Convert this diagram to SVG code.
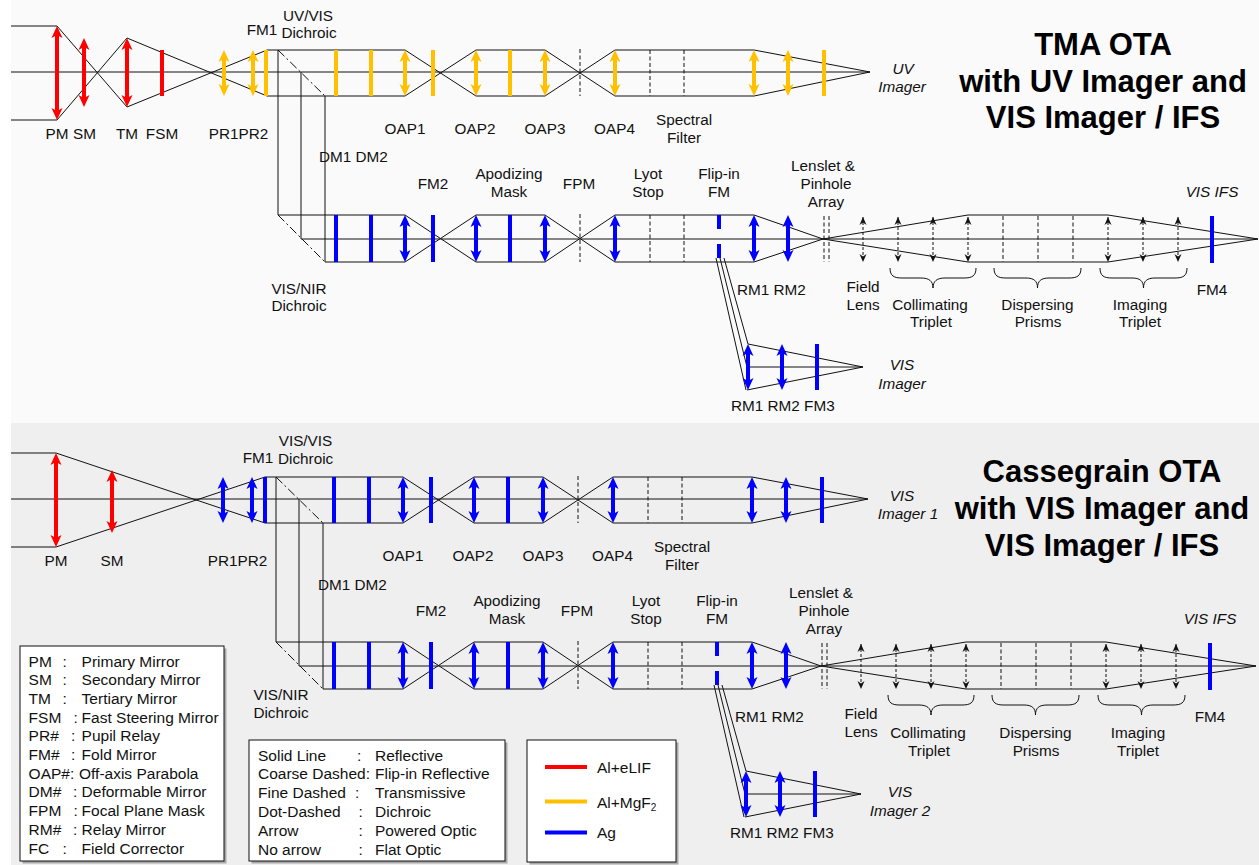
<svg xmlns="http://www.w3.org/2000/svg" width="1259" height="865" viewBox="0 0 1259 865">
<defs>
<style>
.ln{stroke:#111;stroke-width:1;fill:none}
.fd{stroke:#111;stroke-width:1;stroke-dasharray:4 2.5;fill:none}
.dd{stroke:#111;stroke-width:1;stroke-dasharray:9 3 2 3;fill:none}
.fr{stroke:#ff0000;stroke-width:4}
.fy{stroke:#ffc000;stroke-width:4}
.fb{stroke:#0000ff;stroke-width:4}
.ar{marker-start:url(#mR);marker-end:url(#mR)}
.ay{marker-start:url(#mY);marker-end:url(#mY)}
.ab{marker-start:url(#mB);marker-end:url(#mB)}
.cd{stroke:#0000ff;stroke-width:4;stroke-dasharray:14 15}
.sa{stroke:#111;stroke-width:1;stroke-dasharray:3 2;marker-start:url(#mK);marker-end:url(#mK)}
.br{stroke:#111;stroke-width:1;fill:none}
text{font-family:"Liberation Sans",Arial,sans-serif;font-size:15.3px;fill:#111}
.c{text-anchor:middle}
.i{font-style:italic}
.t{font-weight:bold;font-size:31px;text-anchor:middle;fill:#000}
.lg{font-size:15.5px}
.box{fill:#fff;stroke:#111;stroke-width:1}
.sh{fill:#a8a8a8}
</style>
<marker id="mR" markerUnits="userSpaceOnUse" markerWidth="16" markerHeight="14" viewBox="-6 -7 16 14" refX="0" refY="0" orient="auto-start-reverse"><path d="M8,0 L-4,-5.5 L-1,0 L-4,5.5Z" fill="#ff0000"/></marker>
<marker id="mY" markerUnits="userSpaceOnUse" markerWidth="16" markerHeight="14" viewBox="-6 -7 16 14" refX="0" refY="0" orient="auto-start-reverse"><path d="M8,0 L-4,-5.5 L-1,0 L-4,5.5Z" fill="#ffc000"/></marker>
<marker id="mB" markerUnits="userSpaceOnUse" markerWidth="16" markerHeight="14" viewBox="-6 -7 16 14" refX="0" refY="0" orient="auto-start-reverse"><path d="M8,0 L-4,-5.5 L-1,0 L-4,5.5Z" fill="#0000ff"/></marker>
<marker id="mK" markerUnits="userSpaceOnUse" markerWidth="12" markerHeight="10" viewBox="-10 -5 12 10" refX="0" refY="0" orient="auto-start-reverse"><path d="M0,0 L-8,-3.5 L-5.5,0 L-8,3.5Z" fill="#111"/></marker>
</defs>

<rect x="0" y="0" width="1259" height="865" fill="#ffffff"/>
<rect x="11" y="0" width="1248" height="423" fill="#fafafa"/>
<rect x="11" y="423" width="1248" height="442" fill="#efefef"/>

<!-- ===================== TOP PANEL: TMA OTA ===================== -->
<g id="tma">
<g id="tma-rays">
<path class="ln" d="M11,72H870"/>
<path class="ln" d="M11,26H57 L127,107 L267,50 M11,120H57 L127,38 L267,96"/>
<path class="ln" d="M267,50H405 L476,96 H545 L615,50 H754 L870,72 M267,96H405 L476,50 H545 L615,96 H754 L870,72"/>
<path class="ln" d="M278,50V215 M301,72V239 M325,96V262"/>
<path class="ln" d="M278,215H405 L476,262 H545 L615,215 H754 L823,239 L968,262 H1108 L1258,239 M325,262H405 L476,215 H545 L615,262 H754 L823,239 L968,215 H1108 L1258,239 M301,239H1258"/>
<path class="ln" d="M716,258L746,390 M720,258L747,367 M724,258L748,344 M748,344L863,367 M747,390L863,367 M748,367H863"/>
</g>
<g id="tma-pm"><line class="fr ar" x1="57" y1="34" x2="57" y2="112"/></g>
<g id="tma-sm"><line class="fr ar" x1="84" y1="46" x2="84" y2="99"/></g>
<g id="tma-tm"><line class="fr ar" x1="127" y1="46" x2="127" y2="99"/></g>
<g id="tma-fsm"><line class="fr" x1="162" y1="50" x2="162" y2="96"/></g>
<g id="tma-uv">
<line class="fy ay" x1="224" y1="58" x2="224" y2="88"/>
<line class="fy ay" x1="253" y1="58" x2="253" y2="88"/>
<line class="fy" x1="266" y1="50" x2="266" y2="96"/>
<line class="dd" x1="278" y1="50" x2="325" y2="96"/>
<line class="fy" x1="336" y1="50" x2="336" y2="96"/>
<line class="fy" x1="371" y1="50" x2="371" y2="96"/>
<line class="fy ay" x1="405" y1="58" x2="405" y2="88"/>
<line class="fy" x1="433" y1="50" x2="433" y2="96"/>
<line class="fy ay" x1="476" y1="58" x2="476" y2="88"/>
<line class="fy" x1="510" y1="50" x2="510" y2="96"/>
<line class="fy ay" x1="545" y1="58" x2="545" y2="88"/>
<line class="fd" x1="580" y1="49" x2="580" y2="96"/>
<line class="fy ay" x1="615" y1="58" x2="615" y2="88"/>
<line class="fd" x1="650" y1="50" x2="650" y2="96"/>
<line class="fd" x1="684" y1="50" x2="684" y2="96"/>
<line class="fy ay" x1="754" y1="58" x2="754" y2="88"/>
<line class="fy ay" x1="788" y1="58" x2="788" y2="88"/>
<line class="fy" x1="824" y1="50" x2="824" y2="96"/>
</g>
<g id="tma-vis">
<line class="dd" x1="278" y1="215" x2="325" y2="262"/>
<line class="fb" x1="336" y1="215" x2="336" y2="262"/>
<line class="fb" x1="371" y1="215" x2="371" y2="262"/>
<line class="fb ab" x1="405" y1="223" x2="405" y2="254"/>
<line class="fb" x1="433" y1="215" x2="433" y2="262"/>
<line class="fb ab" x1="476" y1="223" x2="476" y2="254"/>
<line class="fb" x1="510" y1="215" x2="510" y2="262"/>
<line class="fb ab" x1="545" y1="223" x2="545" y2="254"/>
<line class="fd" x1="580" y1="214" x2="580" y2="262"/>
<line class="fb ab" x1="615" y1="223" x2="615" y2="254"/>
<line class="fd" x1="650" y1="215" x2="650" y2="262"/>
<line class="fd" x1="684" y1="215" x2="684" y2="262"/>
<line class="cd" x1="719" y1="215" x2="719" y2="258"/>
<line class="fb ab" x1="754" y1="223" x2="754" y2="254"/>
<line class="fb ab" x1="788" y1="223" x2="788" y2="254"/>
<line class="fd" x1="824" y1="216" x2="824" y2="262"/>
<line class="fd" x1="829" y1="216" x2="829" y2="262"/>
<line class="sa" x1="863" y1="217" x2="863" y2="262"/>
<line class="sa" x1="898" y1="217" x2="898" y2="262"/>
<line class="sa" x1="933" y1="217" x2="933" y2="262"/>
<line class="sa" x1="968" y1="217" x2="968" y2="262"/>
<line class="fd" x1="1003" y1="216" x2="1003" y2="262"/>
<line class="fd" x1="1038" y1="216" x2="1038" y2="262"/>
<line class="fd" x1="1073" y1="216" x2="1073" y2="262"/>
<line class="sa" x1="1108" y1="217" x2="1108" y2="262"/>
<line class="sa" x1="1143" y1="217" x2="1143" y2="262"/>
<line class="sa" x1="1178" y1="217" x2="1178" y2="262"/>
<line class="fb" x1="1212" y1="216" x2="1212" y2="263"/>
<path class="br" d="M890,268 C890,276 894,278 902,278 L921,278 C929,278 933,281 933,288 C933,281 937,278 945,278 L964,278 C972,278 976,276 976,268"/>
<path class="br" d="M994,268 C994,276 998,278 1006,278 L1026,278 C1034,278 1037.5,281 1037.5,288 C1037.5,281 1041,278 1049,278 L1069,278 C1077,278 1081,276 1081,268"/>
<path class="br" d="M1100,268 C1100,276 1104,278 1112,278 L1132,278 C1140,278 1143.5,281 1143.5,288 C1143.5,281 1147,278 1155,278 L1175,278 C1183,278 1187,276 1187,268"/>
</g>
<g id="tma-visimager">
<line class="fb ab" x1="748" y1="352" x2="748" y2="382"/>
<line class="fb ab" x1="782" y1="352" x2="782" y2="382"/>
<line class="fb" x1="817" y1="344" x2="817" y2="390"/>
</g>
<g id="tma-labels">
<text class="c" x="57" y="138.5">PM</text>
<text class="c" x="84.5" y="138.5">SM</text>
<text class="c" x="127" y="138.5">TM</text>
<text class="c" x="162" y="138.5">FSM</text>
<text class="c" x="238.5" y="138.5">PR1PR2</text>
<text class="c" x="262" y="35">FM1</text>
<text class="c" x="308" y="20.5">UV/VIS</text>
<text class="c" x="309" y="38">Dichroic</text>
<text x="319" y="162">DM1 DM2</text>
<text class="c" x="405" y="133.5">OAP1</text>
<text class="c" x="475" y="133.5">OAP2</text>
<text class="c" x="545" y="133.5">OAP3</text>
<text class="c" x="614.5" y="133.5">OAP4</text>
<text class="c" x="684" y="124.5">Spectral</text>
<text class="c" x="684" y="142.5">Filter</text>
<text class="c i" x="903" y="74">UV</text>
<text class="c i" x="902" y="91.5">Imager</text>
<text class="c" x="433" y="188.5">FM2</text>
<text class="c" x="509" y="178.5">Apodizing</text>
<text class="c" x="509" y="196.5">Mask</text>
<text class="c" x="579" y="188.5">FPM</text>
<text class="c" x="648" y="178.5">Lyot</text>
<text class="c" x="648" y="196.5">Stop</text>
<text class="c" x="719" y="178.5">Flip-in</text>
<text class="c" x="719" y="196.5">FM</text>
<text class="c" x="823" y="170.5">Lenslet &amp;</text>
<text class="c" x="826" y="188.5">Pinhole</text>
<text class="c" x="826" y="206.5">Array</text>
<text class="c i" x="1212" y="196.5">VIS IFS</text>
<text class="c" x="299" y="293.5">VIS/NIR</text>
<text class="c" x="299" y="311">Dichroic</text>
<text x="737" y="295">RM1 RM2</text>
<text class="c" x="863" y="292">Field</text>
<text class="c" x="863" y="310">Lens</text>
<text class="c" x="930" y="309.5">Collimating</text>
<text class="c" x="931" y="327">Triplet</text>
<text class="c" x="1037.5" y="309.5">Dispersing</text>
<text class="c" x="1038" y="327">Prisms</text>
<text class="c" x="1140" y="309.5">Imaging</text>
<text class="c" x="1140" y="327">Triplet</text>
<text class="c" x="1212" y="295">FM4</text>
<text class="c i" x="902" y="370">VIS</text>
<text class="c i" x="902" y="388.5">Imager</text>
<text x="731" y="410.5">RM1 RM2 FM3</text>
</g>
<g id="tma-title">
<text class="t" x="1103" y="55">TMA OTA</text>
<text class="t" x="1103" y="92">with UV Imager and</text>
<text class="t" x="1103" y="128">VIS Imager / IFS</text>
</g>
</g>

<!-- ===================== BOTTOM PANEL: Cassegrain OTA ===================== -->
<g id="cass" transform="translate(-2,427)">
<g id="cass-rays">
<path class="ln" d="M13,72H870"/>
<path class="ln" d="M13,26H58 L267,96 M13,120H58 L267,50"/>
<path class="ln" d="M267,50H405 L476,96 H545 L615,50 H754 L870,72 M267,96H405 L476,50 H545 L615,96 H754 L870,72"/>
<path class="ln" d="M278,50V215 M301,72V239 M325,96V262"/>
<path class="ln" d="M278,215H405 L476,262 H545 L615,215 H754 L823,239 L968,262 H1108 L1258,239 M325,262H405 L476,215 H545 L615,262 H754 L823,239 L968,215 H1108 L1258,239 M301,239H1258"/>
<path class="ln" d="M716,258L746,390 M720,258L747,367 M724,258L748,344 M748,344L863,367 M747,390L863,367 M748,367H863"/>
</g>
<g id="cass-pm"><line class="fr ar" x1="58" y1="34" x2="58" y2="112"/></g>
<g id="cass-sm"><line class="fr ar" x1="114" y1="51" x2="114" y2="98"/></g>
<g id="cass-vis1">
<line class="fb ab" x1="225" y1="58" x2="225" y2="88"/>
<line class="fb ab" x1="254" y1="58" x2="254" y2="88"/>
<line class="fb" x1="267" y1="50" x2="267" y2="96"/>
<line class="dd" x1="278" y1="50" x2="325" y2="96"/>
<line class="fb" x1="336" y1="50" x2="336" y2="96"/>
<line class="fb" x1="371" y1="50" x2="371" y2="96"/>
<line class="fb ab" x1="405" y1="58" x2="405" y2="88"/>
<line class="fb" x1="433" y1="50" x2="433" y2="96"/>
<line class="fb ab" x1="476" y1="58" x2="476" y2="88"/>
<line class="fb" x1="510" y1="50" x2="510" y2="96"/>
<line class="fb ab" x1="545" y1="58" x2="545" y2="88"/>
<line class="fd" x1="580" y1="49" x2="580" y2="96"/>
<line class="fb ab" x1="615" y1="58" x2="615" y2="88"/>
<line class="fd" x1="650" y1="50" x2="650" y2="96"/>
<line class="fd" x1="684" y1="50" x2="684" y2="96"/>
<line class="fb ab" x1="754" y1="58" x2="754" y2="88"/>
<line class="fb ab" x1="788" y1="58" x2="788" y2="88"/>
<line class="fb" x1="824" y1="50" x2="824" y2="96"/>
</g>
<g id="cass-vis">
<line class="dd" x1="278" y1="215" x2="325" y2="262"/>
<line class="fb" x1="336" y1="215" x2="336" y2="262"/>
<line class="fb" x1="371" y1="215" x2="371" y2="262"/>
<line class="fb ab" x1="405" y1="223" x2="405" y2="254"/>
<line class="fb" x1="433" y1="215" x2="433" y2="262"/>
<line class="fb ab" x1="476" y1="223" x2="476" y2="254"/>
<line class="fb" x1="510" y1="215" x2="510" y2="262"/>
<line class="fb ab" x1="545" y1="223" x2="545" y2="254"/>
<line class="fd" x1="580" y1="214" x2="580" y2="262"/>
<line class="fb ab" x1="615" y1="223" x2="615" y2="254"/>
<line class="fd" x1="650" y1="215" x2="650" y2="262"/>
<line class="fd" x1="684" y1="215" x2="684" y2="262"/>
<line class="cd" x1="719" y1="215" x2="719" y2="258"/>
<line class="fb ab" x1="754" y1="223" x2="754" y2="254"/>
<line class="fb ab" x1="788" y1="223" x2="788" y2="254"/>
<line class="fd" x1="824" y1="216" x2="824" y2="262"/>
<line class="fd" x1="829" y1="216" x2="829" y2="262"/>
<line class="sa" x1="863" y1="217" x2="863" y2="262"/>
<line class="sa" x1="898" y1="217" x2="898" y2="262"/>
<line class="sa" x1="933" y1="217" x2="933" y2="262"/>
<line class="sa" x1="968" y1="217" x2="968" y2="262"/>
<line class="fd" x1="1003" y1="216" x2="1003" y2="262"/>
<line class="fd" x1="1038" y1="216" x2="1038" y2="262"/>
<line class="fd" x1="1073" y1="216" x2="1073" y2="262"/>
<line class="sa" x1="1108" y1="217" x2="1108" y2="262"/>
<line class="sa" x1="1143" y1="217" x2="1143" y2="262"/>
<line class="sa" x1="1178" y1="217" x2="1178" y2="262"/>
<line class="fb" x1="1212" y1="216" x2="1212" y2="263"/>
<path class="br" d="M890,268 C890,276 894,278 902,278 L921,278 C929,278 933,281 933,288 C933,281 937,278 945,278 L964,278 C972,278 976,276 976,268"/>
<path class="br" d="M994,268 C994,276 998,278 1006,278 L1026,278 C1034,278 1037.5,281 1037.5,288 C1037.5,281 1041,278 1049,278 L1069,278 C1077,278 1081,276 1081,268"/>
<path class="br" d="M1100,268 C1100,276 1104,278 1112,278 L1132,278 C1140,278 1143.5,281 1143.5,288 C1143.5,281 1147,278 1155,278 L1175,278 C1183,278 1187,276 1187,268"/>
</g>
<g id="cass-visimager">
<line class="fb ab" x1="748" y1="352" x2="748" y2="382"/>
<line class="fb ab" x1="782" y1="352" x2="782" y2="382"/>
<line class="fb" x1="817" y1="344" x2="817" y2="390"/>
</g>
<g id="cass-labels">
<text class="c" x="58" y="138.5">PM</text>
<text class="c" x="114" y="138.5">SM</text>
<text class="c" x="239.5" y="138.5">PR1PR2</text>
<text class="c" x="260" y="35.7">FM1</text>
<text class="c" x="307.5" y="19">VIS/VIS</text>
<text class="c" x="307.6" y="37">Dichroic</text>
<text x="320" y="163">DM1 DM2</text>
<text class="c" x="405" y="133.5">OAP1</text>
<text class="c" x="475" y="133.5">OAP2</text>
<text class="c" x="545" y="133.5">OAP3</text>
<text class="c" x="614.5" y="133.5">OAP4</text>
<text class="c" x="684" y="124.5">Spectral</text>
<text class="c" x="684" y="142.5">Filter</text>
<text class="c i" x="904" y="74">VIS</text>
<text class="c i" x="910" y="91.5">Imager 1</text>
<text class="c" x="433" y="188.5">FM2</text>
<text class="c" x="509" y="178.5">Apodizing</text>
<text class="c" x="509" y="196.5">Mask</text>
<text class="c" x="579" y="188.5">FPM</text>
<text class="c" x="648" y="178.5">Lyot</text>
<text class="c" x="648" y="196.5">Stop</text>
<text class="c" x="719" y="178.5">Flip-in</text>
<text class="c" x="719" y="196.5">FM</text>
<text class="c" x="823" y="170.5">Lenslet &amp;</text>
<text class="c" x="826" y="188.5">Pinhole</text>
<text class="c" x="826" y="206.5">Array</text>
<text class="c i" x="1212" y="196.5">VIS IFS</text>
<text class="c" x="283" y="273">VIS/NIR</text>
<text class="c" x="283" y="291">Dichroic</text>
<text x="737" y="295">RM1 RM2</text>
<text class="c" x="863" y="292">Field</text>
<text class="c" x="863" y="310">Lens</text>
<text class="c" x="930" y="311">Collimating</text>
<text class="c" x="931" y="329">Triplet</text>
<text class="c" x="1037.5" y="311">Dispersing</text>
<text class="c" x="1038" y="329">Prisms</text>
<text class="c" x="1140" y="311">Imaging</text>
<text class="c" x="1140" y="329">Triplet</text>
<text class="c" x="1212" y="295">FM4</text>
<text class="c i" x="902" y="370">VIS</text>
<text class="c i" x="902" y="388.5">Imager 2</text>
<text x="732" y="410.5">RM1 RM2 FM3</text>
</g>
</g>
<g id="cass-title">
<text class="t" x="1102" y="482">Cassegrain OTA</text>
<text class="t" x="1102" y="519">with VIS Imager and</text>
<text class="t" x="1102" y="556">VIS Imager / IFS</text>
</g>

<!-- ===================== LEGENDS ===================== -->
<g id="legend-acronyms">
<rect class="sh" x="22.5" y="648.5" width="204" height="215"/>
<rect class="box" x="20" y="646" width="204" height="215"/>
<text class="lg" x="28.6" y="666.5">PM</text><text class="lg" x="62.5" y="666.5">:</text><text class="lg" x="81.6" y="666.5">Primary Mirror</text>
<text class="lg" x="28.6" y="685.2">SM</text><text class="lg" x="62.5" y="685.2">:</text><text class="lg" x="81.6" y="685.2">Secondary Mirror</text>
<text class="lg" x="28.6" y="703.9">TM</text><text class="lg" x="62.5" y="703.9">:</text><text class="lg" x="81.6" y="703.9">Tertiary Mirror</text>
<text class="lg" x="28.6" y="722.6">FSM</text><text class="lg" x="73.5" y="722.6">:</text><text class="lg" x="81.6" y="722.6">Fast Steering Mirror</text>
<text class="lg" x="28.6" y="741.3">PR#</text><text class="lg" x="71" y="741.3">:</text><text class="lg" x="81.6" y="741.3">Pupil Relay</text>
<text class="lg" x="28.6" y="760">FM#</text><text class="lg" x="71" y="760">:</text><text class="lg" x="81.6" y="760">Fold Mirror</text>
<text class="lg" x="28.6" y="778.7">OAP#:</text><text class="lg" x="79" y="778.7">Off-axis Parabola</text>
<text class="lg" x="28.6" y="797.4">DM#</text><text class="lg" x="73" y="797.4">:</text><text class="lg" x="81.6" y="797.4">Deformable Mirror</text>
<text class="lg" x="28.6" y="816.1">FPM</text><text class="lg" x="73.5" y="816.1">:</text><text class="lg" x="81.6" y="816.1">Focal Plane Mask</text>
<text class="lg" x="28.6" y="834.8">RM#</text><text class="lg" x="73" y="834.8">:</text><text class="lg" x="81.6" y="834.8">Relay Mirror</text>
<text class="lg" x="28.6" y="853.5">FC</text><text class="lg" x="62.5" y="853.5">:</text><text class="lg" x="81.6" y="853.5">Field Corrector</text>
</g>
<g id="legend-linestyles">
<rect class="sh" x="251.5" y="742.5" width="256" height="121"/>
<rect class="box" x="249" y="740" width="256" height="121"/>
<text class="lg" x="258" y="760.5">Solid Line</text><text class="lg" x="357" y="760.5">:</text><text class="lg" x="375" y="760.5">Reflective</text>
<text class="lg" x="258" y="779.3">Coarse Dashed:</text><text class="lg" x="375" y="779.3">Flip-in Reflective</text>
<text class="lg" x="258" y="798.1">Fine Dashed</text><text class="lg" x="355" y="798.1">:</text><text class="lg" x="375" y="798.1">Transmissive</text>
<text class="lg" x="258" y="816.9">Dot-Dashed</text><text class="lg" x="358.5" y="816.9">:</text><text class="lg" x="375" y="816.9">Dichroic</text>
<text class="lg" x="258" y="835.7">Arrow</text><text class="lg" x="358.5" y="835.7">:</text><text class="lg" x="375" y="835.7">Powered Optic</text>
<text class="lg" x="258" y="854.5">No arrow</text><text class="lg" x="358.5" y="854.5">:</text><text class="lg" x="375" y="854.5">Flat Optic</text>
</g>
<g id="legend-coatings">
<rect class="sh" x="529.5" y="742.5" width="149" height="122"/>
<rect class="box" x="527" y="740" width="149" height="122"/>
<line class="fr" x1="545" y1="767" x2="587" y2="767"/>
<text class="lg" x="597" y="773">Al+eLIF</text>
<line class="fy" x1="545" y1="801.5" x2="587" y2="801.5"/>
<text class="lg" x="597" y="808">Al+MgF<tspan font-size="10" dy="3">2</tspan></text>
<line class="fb" x1="545" y1="832.5" x2="587" y2="832.5"/>
<text class="lg" x="597" y="838">Ag</text>
</g>
</svg>
